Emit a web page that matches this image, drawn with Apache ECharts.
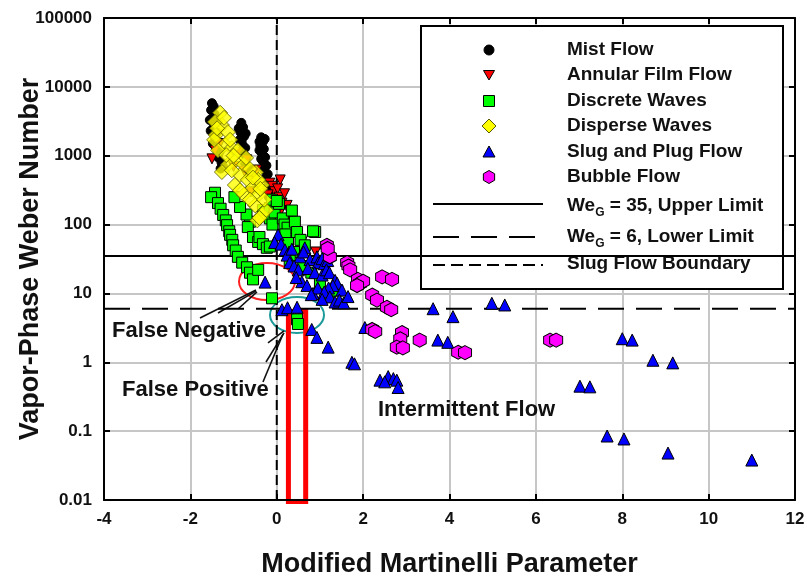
<!DOCTYPE html>
<html>
<head>
<meta charset="utf-8">
<script src="https://cdn.jsdelivr.net/npm/echarts@6/dist/echarts.min.js"></script>
<style>
  html, body { margin: 0; padding: 0; background: #fff; }
  #chart { width: 807px; height: 577px; }
</style>
</head>
<body>
<div id="chart"></div>
<script>
// Flow-regime map: vapour-phase Weber number against the modified Martinelli parameter.

const xTickLabels = ['-4', '-2', '0', '2', '4', '6', '8', '10', '12'];
const yTickLabels = ['0.01', '0.1', '1', '10', '100', '1000', '10000', '100000'];

const seriesNames = ['Mist Flow', 'Annular Film Flow', 'Discrete Waves', 'Disperse Waves', 'Slug and Plug Flow', 'Bubble Flow'];

const mistFlow = [
  [-1.50, 5800], [-1.46, 5200], [-1.52, 4600], [-1.44, 4000], [-1.49, 3500], [-1.41, 3000], [-1.55, 3300],
  [-1.46, 2600], [-1.38, 2200], [-1.53, 2300], [-1.43, 1900], [-1.35, 1600], [-1.40, 1350], [-1.32, 1150],
  [-1.36, 950], [-1.28, 800], [-1.30, 650], [-1.48, 1500], [-1.25, 700],
  [-0.82, 3000], [-0.78, 2600], [-0.84, 2200], [-0.76, 1900], [-0.86, 1700], [-0.81, 1550], [-0.73, 1300],
  [-0.78, 1100], [-0.70, 950], [-0.74, 800], [-0.66, 650], [-0.62, 520], [-0.88, 2500], [-0.72, 2100],
  [-0.36, 1850], [-0.32, 1600], [-0.38, 1400], [-0.30, 1250], [-0.35, 1100], [-0.27, 950], [-0.32, 830],
  [-0.24, 720], [-0.29, 620], [-0.21, 540], [-0.26, 470], [-0.18, 400], [-0.22, 340], [-0.15, 290],
  [-0.18, 250], [-0.12, 215], [-0.40, 1200], [-0.36, 900], [-0.40, 1600], [-0.28, 1750]
];

const annularFilmFlow = [
  [-1.43, 1200], [-1.50, 900], [-1.32, 1500], [-0.69, 870], [-0.75, 600], [-0.46, 620], [-0.52, 450],
  [-0.16, 400], [-0.10, 360], [-0.05, 300], [0.08, 445], [0.02, 330], [-0.20, 270], [0.12, 205],
  [0.24, 190], [0.05, 250], [0.18, 280], [0.30, 150], [0.54, 60], [0.58, 56], [-0.60, 300],
  [-0.90, 1100], [-1.00, 700], [0.25, 110], [0.90, 40], [0.10, 160]
];

const discreteWaves = [
  [-1.43, 290], [-1.52, 250], [-1.36, 205], [-1.30, 170], [-1.24, 138], [-1.18, 115], [-1.15, 98],
  [-1.10, 80], [-1.08, 71], [-1.03, 60], [-1.01, 50], [-0.95, 42], [-0.90, 34], [-0.80, 28],
  [-0.69, 24], [-0.62, 20], [-0.55, 16], [-0.43, 22], [-0.62, 110], [-0.67, 92], [-0.55, 66],
  [-0.43, 56], [-0.40, 66], [-0.32, 52], [-0.23, 46], [-0.16, 48], [-0.32, 162], [-0.16, 174],
  [-0.11, 230], [-0.16, 123], [-0.10, 100], [-0.05, 150], [0.05, 200], [0.14, 123], [0.18, 100],
  [0.25, 90], [0.20, 72], [0.42, 110], [0.47, 78], [0.55, 60], [0.26, 54], [0.89, 78], [0.84, 80],
  [0.65, 50], [0.40, 40], [0.30, 30], [0.60, 25], [0.80, 20], [1.00, 14], [1.20, 9], [1.40, 11],
  [-0.11, 8.5], [0.47, 4.2], [0.49, 3.6], [0.00, 220], [0.35, 160], [-0.70, 140], [-0.85, 180],
  [-0.98, 250]
];

const disperseWaves = [
  [-1.31, 4200], [-1.27, 2800], [-1.41, 2000], [-1.13, 2200], [-1.20, 1440], [-1.36, 1200], [-1.04, 1290],
  [-0.94, 870], [-1.13, 740], [-1.27, 580], [-0.85, 525], [-0.76, 740], [-0.67, 445], [-0.97, 375],
  [-0.57, 335], [-0.76, 270], [-0.43, 270], [-0.34, 375], [-0.50, 190], [-0.34, 138], [-0.25, 162],
  [-0.62, 230], [-1.08, 1700], [-1.45, 1700], [-1.43, 3100], [-1.22, 3550], [-0.90, 1200], [-0.71, 930],
  [-0.48, 575], [-1.04, 615], [-0.85, 315], [-0.29, 230], [-0.43, 445], [-1.17, 1020], [-1.38, 2500],
  [-1.00, 1000], [-0.62, 640], [-0.55, 480], [-0.38, 330], [-0.45, 115], [-0.40, 125]
];

const slugPlugFlow = [
  [0.03, 71], [-0.05, 55], [0.10, 52], [0.19, 43], [0.24, 36], [0.35, 44], [0.54, 34], [0.65, 46],
  [0.62, 40], [0.77, 31], [0.93, 34], [0.96, 28], [1.05, 32], [1.10, 27], [1.18, 30], [0.30, 28],
  [0.40, 25], [0.50, 22], [0.72, 23], [0.88, 20], [1.05, 18.5], [1.15, 22], [1.22, 20], [1.35, 15.5],
  [1.40, 14], [1.51, 11.2], [1.30, 13], [1.20, 12], [0.58, 14.8], [0.45, 17], [0.70, 13], [0.84, 10],
  [0.95, 12], [1.10, 10.5], [1.23, 8.9], [1.35, 7.5], [1.45, 8.0], [1.55, 7.3], [1.65, 9.0], [0.80, 9.6],
  [1.05, 8.2], [0.12, 5.8], [0.25, 6.2], [0.47, 6.3], [-0.27, 14.6], [0.81, 3.0], [0.93, 2.3],
  [1.19, 1.66], [1.74, 1.0], [1.80, 0.95], [2.04, 3.2], [2.39, 0.55], [2.58, 0.62], [2.70, 0.58],
  [2.78, 0.55], [2.81, 0.43], [2.50, 0.52], [3.62, 6.0], [4.08, 4.6], [4.98, 7.2], [5.28, 6.8],
  [3.73, 2.1], [3.96, 1.95], [8.00, 2.2], [8.23, 2.1], [8.71, 1.07], [9.17, 0.98], [7.02, 0.45],
  [7.25, 0.44], [7.65, 0.085], [8.04, 0.077], [9.06, 0.048], [11.0, 0.038]
];

const bubbleFlow = [
  [1.16, 50], [1.23, 34], [1.18, 45], [1.63, 28], [1.66, 25], [1.70, 22], [1.88, 16], [1.93, 14],
  [2.00, 15], [1.86, 13], [2.44, 17.4], [2.67, 16], [2.21, 9.5], [2.32, 8], [2.55, 6.3], [2.65, 5.8],
  [2.21, 3.0], [2.28, 2.8], [2.90, 2.7], [2.86, 2.2], [2.78, 1.66], [2.92, 1.62], [3.31, 2.1],
  [4.20, 1.4], [4.36, 1.38], [6.33, 2.1], [6.47, 2.1]
];

// Regime boundaries
const upperLimitLine = [[-4, 35], [12, 35]];
const lowerLimitLine = [[-4, 6], [12, 6]];
const slugBoundaryLine = [[0, 0.01], [0, 100000]];

const FONT = '"Liberation Sans", Arial, Helvetica, sans-serif';
const HEX = 'path://M0,-10L8.66,-5L8.66,5L0,10L-8.66,5L-8.66,-5Z';

const chart = echarts.init(document.getElementById('chart'), null, { renderer: 'canvas' });

function scatter(name, data, symbol, size, color, extra) {
  return Object.assign({
    name: name,
    type: 'scatter',
    data: data,
    symbol: symbol,
    symbolSize: size,
    z: 3,
    itemStyle: { color: color, borderColor: '#000', borderWidth: 1, opacity: 1 },
    emphasis: { disabled: true },
    silent: true
  }, extra || {});
}

function refLine(name, data, type) {
  return {
    name: name,
    type: 'line',
    data: data,
    symbol: 'none',
    z: 2,
    silent: true,
    lineStyle: { color: '#000', width: 2, type: type }
  };
}

const axisLineStyle = { show: true, onZero: false, lineStyle: { color: '#000', width: 2 } };
const tickStyle = { show: true, inside: true, length: 6, lineStyle: { color: '#000', width: 2 } };
const labelStyle = { color: '#111', fontFamily: FONT, fontWeight: 'bold', fontSize: 17 };
const titleStyle = { color: '#111', fontFamily: FONT, fontWeight: 'bold', fontSize: 27 };
const gridLineStyle = { show: true, lineStyle: { color: '#c6c6c6', width: 2 } };

chart.setOption({
  animation: false,
  backgroundColor: '#fff',
  grid: { left: 104, right: 12, top: 18, bottom: 77, containLabel: false, outerBoundsMode: 'none' },
  xAxis: [
    {
      type: 'value', min: -4, max: 12, interval: 2, position: 'bottom',
      axisLine: axisLineStyle, axisTick: tickStyle, splitLine: gridLineStyle,
      axisLabel: Object.assign({ margin: 11, formatter: v => xTickLabels[Math.round((v + 4) / 2)] }, labelStyle),
      name: 'Modified Martinelli Parameter', nameLocation: 'middle', nameGap: 51, nameMoveOverlap: false, nameTextStyle: titleStyle
    },
    {
      type: 'value', min: -4, max: 12, interval: 2, position: 'top',
      axisLine: axisLineStyle, axisTick: tickStyle, splitLine: { show: false }, axisLabel: { show: false }
    }
  ],
  yAxis: [
    {
      type: 'log', logBase: 10, min: 0.01, max: 100000, splitNumber: 7, position: 'left',
      axisLine: axisLineStyle, axisTick: tickStyle, splitLine: gridLineStyle, minorTick: { show: false },
      axisLabel: Object.assign({ margin: 12, formatter: v => yTickLabels[Math.round(Math.log10(v)) + 2] }, labelStyle),
      name: 'Vapor-Phase Weber Number', nameLocation: 'middle', nameRotate: 90, nameGap: 60, nameMoveOverlap: false, nameTextStyle: titleStyle
    },
    {
      type: 'log', logBase: 10, min: 0.01, max: 100000, splitNumber: 7, position: 'right',
      axisLine: axisLineStyle, axisTick: tickStyle, splitLine: { show: false }, axisLabel: { show: false }
    }
  ],
  series: [
    refLine('WeG = 35, Upper Limit', upperLimitLine, 'solid'),
    refLine('WeG = 6, Lower Limit', lowerLimitLine, [26, 12]),
    refLine('Slug Flow Boundary', slugBoundaryLine, [10, 5]),
    scatter(seriesNames[0], mistFlow, 'circle', 9, '#000'),
    scatter(seriesNames[1], annularFilmFlow, 'triangle', 10, '#ff0000', { symbolRotate: 180 }),
    scatter(seriesNames[2], discreteWaves, 'rect', 11, '#00ff00'),
    scatter(seriesNames[3], disperseWaves, 'diamond', 15, '#ffff00', { itemStyle: { color: '#ffff00', borderColor: '#5a5a00', borderWidth: 1 } }),
    scatter(seriesNames[4], slugPlugFlow, 'triangle', 12, '#0000ff'),
    scatter(seriesNames[5], bubbleFlow, HEX, [13, 14], '#ff00ff')
  ]
});

// ---- Legend box ----
const legendTextStyle = { fill: '#111', font: 'bold 19px ' + FONT, textVerticalAlign: 'middle', verticalAlign: 'middle' };
const mx = 489, tx = 567;
const rowY = [50, 75, 101, 126, 152, 177, 203, 234, 264];

function hexPoints(cx, cy, r) {
  const pts = [];
  for (let i = 0; i < 6; i++) {
    const a = Math.PI / 3 * i - Math.PI / 2;
    pts.push([cx + r * Math.cos(a), cy + r * Math.sin(a)]);
  }
  return pts;
}

const legendChildren = [
  { type: 'rect', shape: { x: 421, y: 26, width: 362, height: 263 }, style: { fill: '#fff', stroke: '#000', lineWidth: 2 } },
  { type: 'circle', shape: { cx: mx, cy: rowY[0], r: 5 }, style: { fill: '#000', stroke: '#000' } },
  { type: 'polygon', shape: { points: [[mx - 5.5, rowY[1] - 4.5], [mx + 5.5, rowY[1] - 4.5], [mx, rowY[1] + 5]] }, style: { fill: '#ff0000', stroke: '#000', lineWidth: 1 } },
  { type: 'rect', shape: { x: mx - 5.5, y: rowY[2] - 5.5, width: 11, height: 11 }, style: { fill: '#00ff00', stroke: '#000', lineWidth: 1 } },
  { type: 'polygon', shape: { points: [[mx, rowY[3] - 7], [mx + 7, rowY[3]], [mx, rowY[3] + 7], [mx - 7, rowY[3]]] }, style: { fill: '#ffff00', stroke: '#5a5a00', lineWidth: 1 } },
  { type: 'polygon', shape: { points: [[mx, rowY[4] - 6], [mx + 6, rowY[4] + 5], [mx - 6, rowY[4] + 5]] }, style: { fill: '#0000ff', stroke: '#000', lineWidth: 1 } },
  { type: 'polygon', shape: { points: hexPoints(mx, rowY[5], 6.5) }, style: { fill: '#ff00ff', stroke: '#000', lineWidth: 1 } },
  { type: 'line', shape: { x1: 433, y1: rowY[6] + 1, x2: 543, y2: rowY[6] + 1 }, style: { stroke: '#000', lineWidth: 2 } },
  { type: 'line', shape: { x1: 433, y1: rowY[7] + 3, x2: 543, y2: rowY[7] + 3 }, style: { stroke: '#000', lineWidth: 2, lineDash: [26, 12] } },
  { type: 'line', shape: { x1: 433, y1: rowY[8] + 1, x2: 543, y2: rowY[8] + 1 }, style: { stroke: '#000', lineWidth: 2, lineDash: [12, 6] } }
];

seriesNames.forEach((name, i) => {
  legendChildren.push({ type: 'text', x: tx, y: rowY[i], style: Object.assign({ text: name }, legendTextStyle) });
});

const weRich = {
  a: { fill: '#111', font: 'bold 19px ' + FONT, lineHeight: 26, verticalAlign: 'middle' },
  s: { fill: '#111', font: 'bold 12px ' + FONT, lineHeight: 13, verticalAlign: 'bottom' }
};
[['35, Upper Limit', rowY[6]], ['6, Lower Limit', rowY[7]]].forEach(([rest, y]) => {
  legendChildren.push({
    type: 'text', x: tx, y: y + 3,
    style: { text: '{a|We}{s|G}{a| = ' + rest + '}', rich: weRich, verticalAlign: 'middle', textVerticalAlign: 'middle' }
  });
});
legendChildren.push({ type: 'text', x: tx, y: rowY[8], style: Object.assign({ text: 'Slug Flow Boundary' }, legendTextStyle) });

// ---- Annotations, anchored in data coordinates ----
const toPx = p => chart.convertToPixel({ xAxisIndex: 0, yAxisIndex: 0 }, p);

const falseNegativeZone = { center: [-0.226, 14.9], rx: 28, ry: 18.5 };
const falsePositiveZone = { center: [0.469, 4.86], rx: 27, ry: 18 };
const highlightBox = { from: [0.27, 5.47], to: [0.67, 0.0095] };
const pointerLines = [
  [[-1.777, 4.40], [-0.481, 11.2]],
  [[-1.360, 5.2], [-0.481, 10.8]],
  [[-0.897, 5.94], [-0.458, 10.5]],
  [[-0.203, 1.91], [0.168, 2.85]],
  [[-0.249, 1.01], [0.168, 2.67]],
  [[-0.319, 0.518], [0.145, 2.58]]
];
const noteLabels = [
  ['False Negative', [-3.815, 2.9]],
  ['False Positive', [-3.583, 0.403]],
  ['Intermittent Flow', [2.344, 0.206]]
];

const annotationChildren = [];
const c1 = toPx(falseNegativeZone.center);
annotationChildren.push({ type: 'ellipse', shape: { cx: c1[0], cy: c1[1], rx: falseNegativeZone.rx, ry: falseNegativeZone.ry }, style: { fill: 'none', stroke: '#ff2020', lineWidth: 2 } });
const c2 = toPx(falsePositiveZone.center);
annotationChildren.push({ type: 'ellipse', shape: { cx: c2[0], cy: c2[1], rx: falsePositiveZone.rx, ry: falsePositiveZone.ry }, style: { fill: 'none', stroke: '#1a9a98', lineWidth: 2 } });
const b0 = toPx(highlightBox.from), b1 = toPx(highlightBox.to);
annotationChildren.push({ type: 'rect', shape: { x: b0[0], y: b0[1], width: b1[0] - b0[0], height: b1[1] - b0[1] }, style: { fill: 'none', stroke: '#ff0000', lineWidth: 5 } });
pointerLines.forEach(([p, q]) => {
  const a = toPx(p), b = toPx(q);
  annotationChildren.push({ type: 'line', shape: { x1: a[0], y1: a[1], x2: b[0], y2: b[1] }, style: { stroke: '#111', lineWidth: 1.6 } });
});
noteLabels.forEach(([text, p]) => {
  const a = toPx(p);
  annotationChildren.push({ type: 'text', x: a[0], y: a[1], style: { text: text, fill: '#111', font: 'bold 22px ' + FONT, textVerticalAlign: 'middle', verticalAlign: 'middle' } });
});

chart.setOption({
  graphic: [
    { type: 'group', z: 90, children: annotationChildren },
    { type: 'group', z: 100, children: legendChildren }
  ]
});
</script>
</body>
</html>
